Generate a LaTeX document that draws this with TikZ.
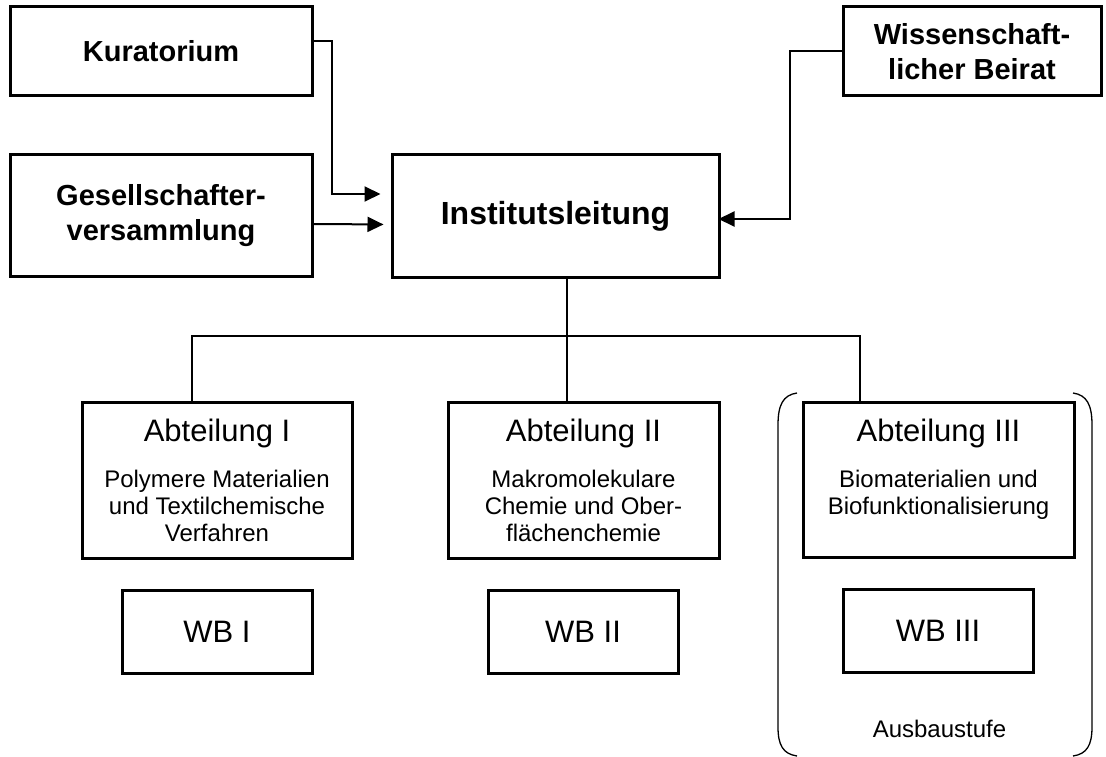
\documentclass[tikz,border=0pt]{standalone}
\usepackage{fontspec}
\setmainfont{Liberation Sans}
\usetikzlibrary{arrows.meta}
\begin{document}
\begin{tikzpicture}[x=1pt,y=-1pt,
  topbox/.style={draw,line width=3pt,inner sep=0pt,align=center,
    font=\fontsize{29}{35}\selectfont\bfseries},
  abtbox/.style={draw,line width=3pt,inner sep=0pt,minimum height=156pt},
  abttitle/.style={anchor=base,inner sep=0pt,font=\fontsize{31}{36}\selectfont},
  abtsub/.style={anchor=base,inner sep=0pt,align=center,
    font=\fontsize{24}{27}\selectfont},
  wbbox/.style={draw,line width=3pt,inner sep=0pt,minimum width=190pt,
    minimum height=83pt,font=\fontsize{31}{36}\selectfont},
  conn/.style={line width=2pt},
  arr/.style={conn,-{Triangle[length=16pt,width=15pt]}}]
\useasboundingbox (0,0) rectangle (1106,757);
\node[topbox,minimum width=302pt,minimum height=89pt] (kur) at (161,51.5) {Kuratorium};
\node[topbox,minimum width=302pt,minimum height=121pt] (ges) at (161,215.5) {Gesellschafter-\\versammlung};
\node[topbox,minimum width=327pt,minimum height=122pt,font=\fontsize{32}{38}\selectfont\bfseries] (inst) at (555.5,216) {Institutsleitung};
\node[topbox,minimum width=258pt,minimum height=89pt] (beirat) at (972,51.5) {Wissenschaft-\\licher Beirat};
\node[abtbox,minimum width=270pt] (abtI) at (217,480) {};
\node[abtbox,minimum width=271pt] (abtII) at (583.5,480) {};
\node[abtbox,minimum width=271pt,minimum height=155pt] (abtIII) at (938.5,479.5) {};
\node[abttitle] (titI) at ([yshift=-41pt]abtI.north) {Abteilung I};
\node[abttitle] (titII) at ([yshift=-41pt]abtII.north) {Abteilung II};
\node[abttitle] (titIII) at ([yshift=-41pt]abtIII.north) {Abteilung III};
\node[abtsub] (subI) at ([yshift=-141pt]abtI.north) {Polymere Materialien\\und Textilchemische\\Verfahren};
\node[abtsub] (subII) at ([yshift=-141pt]abtII.north) {Makromolekulare\\Chemie und Ober-\\flächenchemie};
\node[abtsub] (subIII) at ([yshift=-114pt]abtIII.north) {Biomaterialien und\\Biofunktionalisierung};
\node[wbbox] (wbI) at (217,631.5) {WB I};
\node[wbbox] (wbII) at (583,631.5) {WB II};
\node[wbbox] (wbIII) at (938,631) {WB III};
\node[anchor=base,inner sep=0pt,font=\fontsize{24}{27}\selectfont] (ausbau) at (939.5,737) {Ausbaustufe};
\coordinate (bus) at (567,336);
\draw[arr,shorten >=10pt] ([yshift=10pt]kur.east) -- ++(18,0) |- ([yshift=22pt]inst.west);
\draw[arr,shorten >=7pt] ([yshift=-8.5pt]ges.east) -- ([yshift=-8.5pt]inst.west);
\draw[arr,shorten >=-2pt] (beirat.west) -- ++(-52,0) |- ([yshift=-3pt]inst.east);
\draw[conn] ([xshift=11.5pt]inst.south) -- ([xshift=-16.5pt]abtII.north);
\draw[conn] ([xshift=-25pt]abtI.north) |- (bus) -| ([xshift=-78.5pt]abtIII.north);
\draw[line width=1.3pt] (797,393) .. controls (783,395) and (778,405) .. (778,425) -- (778,727) .. controls (778,745) and (783,754) .. (797,756);
\draw[line width=1.3pt] (1073,393) .. controls (1087,395) and (1092,405) .. (1092,425) -- (1092,727) .. controls (1092,745) and (1087,754) .. (1073,756);
\end{tikzpicture}
\end{document}
